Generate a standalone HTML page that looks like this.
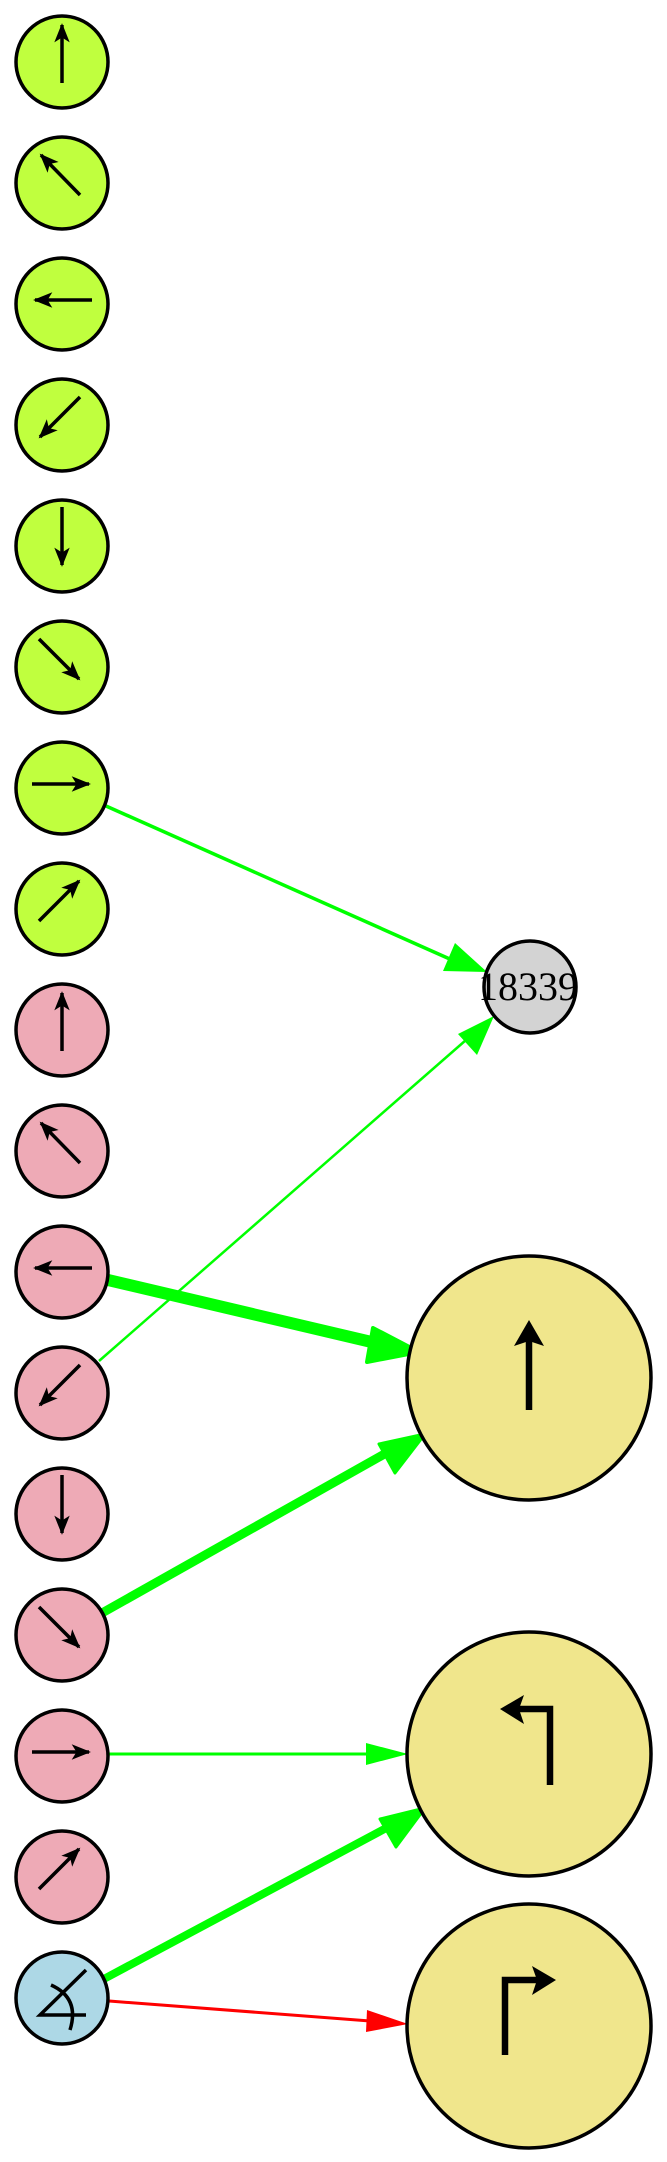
<!DOCTYPE html>
<html><head><meta charset="utf-8"><style>html,body{margin:0;padding:0;background:#fff}svg{display:block}</style></head>
<body>
<svg width="667" height="2162" viewBox="0 0 667 2162" xmlns="http://www.w3.org/2000/svg">
<defs>
<marker id="g" viewBox="0 0 10 10" refX="9" refY="5" markerWidth="5.5" markerHeight="5.5" orient="auto" markerUnits="strokeWidth">
<path d="M0,1 L10,5 L0,9 L2.5,5 Z" fill="#000"/>
</marker>
</defs>
<g fill="#00ff00" stroke="#00ff00">
<line x1="106" y1="806" x2="452" y2="960" stroke-width="3.5"/>
<polygon points="487,972 443,971 455,943" stroke="none"/>
<line x1="99" y1="1361" x2="466" y2="1040" stroke-width="2.5"/>
<polygon points="494,1016 477,1055 458,1034" stroke="none"/>
<line x1="108" y1="1280" x2="380" y2="1344" stroke-width="12"/>
<polygon points="419,1352 367,1362 373,1328" stroke="#00ff00" stroke-width="4" stroke-linejoin="round"/>
<line x1="102" y1="1613" x2="388" y2="1452" stroke-width="9"/>
<polygon points="425,1434 395,1473 379,1444" stroke="#00ff00" stroke-width="3" stroke-linejoin="round"/>
<line x1="109" y1="1754" x2="370" y2="1754" stroke-width="3"/>
<polygon points="408,1754 366,1765 366,1743" stroke="none"/>
<line x1="102" y1="1980" x2="390" y2="1826" stroke-width="8"/>
<polygon points="425,1808 396,1847 380,1819" stroke="#00ff00" stroke-width="3" stroke-linejoin="round"/>
</g>
<line x1="109" y1="2001" x2="370" y2="2021" stroke="#ff0000" stroke-width="3"/>
<polygon points="408,2024 366,2032 367,2010" fill="#ff0000"/>
<g stroke="#000" stroke-width="3.5">
<circle cx="62" cy="62" r="46" fill="#c0ff3e"/>
<circle cx="62" cy="183" r="46" fill="#c0ff3e"/>
<circle cx="62" cy="304" r="46" fill="#c0ff3e"/>
<circle cx="62" cy="425" r="46" fill="#c0ff3e"/>
<circle cx="62" cy="546" r="46" fill="#c0ff3e"/>
<circle cx="62" cy="667" r="46" fill="#c0ff3e"/>
<circle cx="62" cy="788" r="46" fill="#c0ff3e"/>
<circle cx="62" cy="909" r="46" fill="#c0ff3e"/>
<circle cx="62" cy="1030" r="46" fill="#eeaab6"/>
<circle cx="62" cy="1151" r="46" fill="#eeaab6"/>
<circle cx="62" cy="1272" r="46" fill="#eeaab6"/>
<circle cx="62" cy="1393" r="46" fill="#eeaab6"/>
<circle cx="62" cy="1514" r="46" fill="#eeaab6"/>
<circle cx="62" cy="1635" r="46" fill="#eeaab6"/>
<circle cx="62" cy="1756" r="46" fill="#eeaab6"/>
<circle cx="62" cy="1877" r="46" fill="#eeaab6"/>
<circle cx="62" cy="1998" r="46" fill="#add8e6"/>
<circle cx="530" cy="987" r="46" fill="#d3d3d3"/>
<circle cx="529" cy="1378" r="122" fill="#f0e68c"/>
<circle cx="529" cy="1754" r="122" fill="#f0e68c"/>
<circle cx="529" cy="2026" r="122" fill="#f0e68c"/>
</g>
<text x="528" y="1000" font-family="Liberation Serif, serif" font-size="40" text-anchor="middle" fill="#000">18339</text>
<g stroke="#000" stroke-width="3.5" marker-end="url(#g)">
<line x1="62" y1="83" x2="62" y2="25"/>
<line x1="80" y1="195" x2="41" y2="155"/>
<line x1="92" y1="300" x2="35" y2="300"/>
<line x1="80" y1="397" x2="40" y2="437"/>
<line x1="62" y1="507" x2="62" y2="565"/>
<line x1="39" y1="639" x2="79" y2="679"/>
<line x1="32" y1="784" x2="89" y2="784"/>
<line x1="39" y1="921" x2="79" y2="881"/>
<line x1="62" y1="1051" x2="62" y2="993"/>
<line x1="80" y1="1163" x2="41" y2="1123"/>
<line x1="92" y1="1268" x2="35" y2="1268"/>
<line x1="80" y1="1365" x2="40" y2="1405"/>
<line x1="62" y1="1475" x2="62" y2="1533"/>
<line x1="39" y1="1607" x2="79" y2="1647"/>
<line x1="32" y1="1752" x2="89" y2="1752"/>
<line x1="39" y1="1889" x2="79" y2="1849"/>
</g>
<g stroke="#000" stroke-width="3.5" fill="none">
<polyline points="86,2015 40,2015 86,1970"/>
<path d="M51,1985 Q80,1998 70,2030"/>
</g>
<g stroke="#000" stroke-width="6.5" fill="none">
<line x1="529" y1="1410" x2="529" y2="1335"/>
<polyline points="550,1785 550,1709 515,1709"/>
<polyline points="505,2055 505,1980 540,1980"/>
</g>
<polygon points="529,1320 544,1346 529,1341 514,1346" fill="#000"/>
<polygon points="500,1709 524,1695 519,1709 524,1724" fill="#000"/>
<polygon points="556,1980 532,1966 537,1980 532,1995" fill="#000"/>
</svg>
</body></html>
